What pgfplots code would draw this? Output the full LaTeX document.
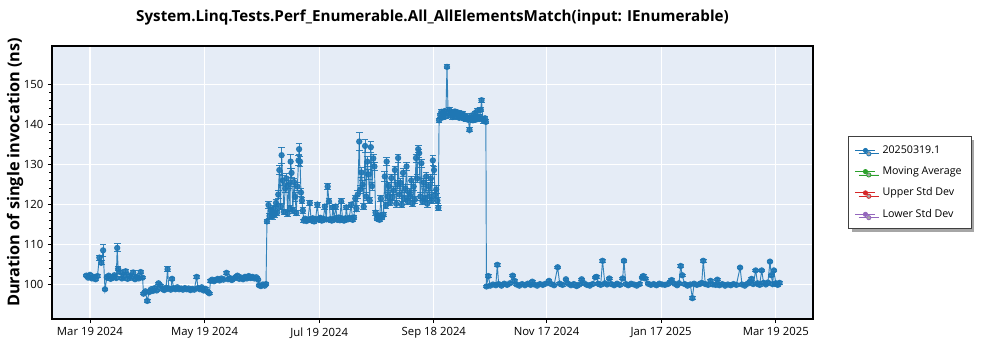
\documentclass[border=0pt]{standalone}
\usepackage{pgfplots}
\pgfplotsset{compat=1.18}
\usepackage{pgfplotstable}
\usepackage{fontspec}
\setmainfont{Open Sans}
\usetikzlibrary{shadows}
\definecolor{cblue}{HTML}{1F77B4}
\definecolor{cgreen}{HTML}{2CA02C}
\definecolor{cred}{HTML}{D62728}
\definecolor{cpurple}{HTML}{9467BD}
\definecolor{plotbg}{HTML}{E5ECF6}

\pgfplotstableread[row sep=\\]{
x y e\\
-2 102.3 0.3\\ -1 101.8 0.3\\ 0 102.5 0.3\\ 1 101.6 0.3\\ 2 102.0 0.3\\ 3 101.4 0.3\\ 4 102.2 0.3\\
5 106.8 0.6\\ 6 105.5 0.5\\ 7 108.6 1.4\\ 8 98.9 0.3\\ 9 101.8 0.3\\ 10 102.3 0.3\\ 11 101.5 0.3\\
12 101.9 0.3\\ 13 102.4 0.3\\ 14 101.7 0.3\\ 14.5 109.2 1.0\\ 15 104.0 0.5\\ 16 103.2 0.4\\ 17 101.6 0.3\\
18 102.2 0.3\\ 19 103.4 0.4\\ 20 101.5 0.3\\ 21 102.3 0.3\\ 22 101.8 0.3\\ 23 103.1 0.4\\ 24 101.4 0.3\\
25 102.0 0.3\\ 26 101.6 0.3\\ 27 103.2 0.4\\ 28 101.8 0.3\\
28.5 97.8 0.3\\ 29.5 98.4 0.3\\ 30.5 96.0 0.3\\ 31.5 98.2 0.3\\ 32.5 98.9 0.3\\ 33.5 98.5 0.3\\
34.5 99.2 0.3\\ 35.5 98.6 0.3\\ 36.5 100.4 0.3\\ 37.5 99.8 0.3\\ 38.5 99.0 0.3\\ 39.5 98.7 0.3\\
40.5 99.3 0.3\\ 41.3 103.9 0.6\\ 42 99.1 0.3\\ 43 98.8 0.3\\ 43.7 101.5 0.4\\ 44.5 99.2 0.3\\
45.5 98.9 0.3\\ 46.5 99.4 0.3\\ 47.5 98.9 0.3\\ 48.5 99.1 0.3\\ 49.5 98.8 0.3\\ 50.5 99.2 0.3\\
51.5 98.9 0.3\\ 52.5 99.1 0.3\\ 53.5 98.7 0.3\\ 54.5 99.0 0.3\\ 55.5 98.8 0.3\\ 56.8 102.0 0.4\\
57.5 99.2 0.3\\ 58.5 98.9 0.3\\ 59.5 99.4 0.3\\ 60.5 98.6 0.3\\ 61.5 99.0 0.3\\ 62.5 98.3 0.3\\ 63.5 97.9 0.3\\
64.2 101.0 0.3\\ 65 101.3 0.3\\ 66 100.9 0.3\\ 67 101.2 0.3\\ 68 101.5 0.3\\ 69 101.1 0.3\\ 70 101.6 0.3\\
71 101.3 0.3\\ 72.7 103.0 0.4\\ 73.5 101.4 0.3\\ 74.5 101.7 0.3\\ 75.5 101.2 0.3\\ 76.5 101.6 0.3\\
77.5 101.9 0.3\\ 78.5 102.3 0.3\\ 79.5 101.5 0.3\\ 80.5 101.8 0.3\\ 81.5 101.4 0.3\\ 82.5 102.0 0.3\\
83.5 101.6 0.3\\ 84.5 102.2 0.3\\ 85.5 101.7 0.3\\ 86.5 102.0 0.3\\ 87.5 101.6 0.3\\ 88.5 101.9 0.3\\
89.5 101.3 0.3\\ 90 99.9 0.3\\ 91 99.7 0.3\\ 92 100.1 0.3\\ 93 99.8 0.3\\ 93.7 100.2 0.3\\
94.2 115.8 0.5\\ 95 119.9 0.8\\ 95.6 117.2 0.6\\ 96.3 118.5 0.8\\ 97 117.0 0.6\\ 97.7 119.0 0.8\\
98.3 117.5 0.6\\ 99 120.4 0.8\\ 99.6 118.0 0.6\\ 100.2 122.5 1.0\\ 100.8 128.6 1.2\\ 101.4 119.5 0.8\\
102 132.3 2.0\\ 102.6 126.0 1.2\\ 103.2 118.2 0.7\\ 103.9 124.0 1.0\\ 104.6 126.5 1.2\\ 105.2 117.8 0.7\\
105.9 125.1 1.0\\ 106.5 119.0 0.8\\ 106.8 130.7 1.8\\ 107.3 127.9 1.2\\ 108 118.6 0.7\\ 108.6 125.6 1.0\\
109.2 121.9 1.0\\ 109.8 117.9 0.7\\ 110.4 124.5 1.0\\ 111 131.0 1.2\\ 111.3 133.8 1.4\\ 111.8 130.7 1.2\\
112.3 123.0 1.0\\ 112.8 121.0 0.8\\ 113.3 118.5 0.7\\
113.8 116.0 0.4\\ 114.5 116.5 0.4\\ 115.2 115.9 0.4\\ 116 116.3 0.4\\ 117 120.4 0.6\\ 117.7 116.1 0.4\\
118.5 116.6 0.4\\ 119.3 115.8 0.4\\ 120.1 116.4 0.4\\ 121 120.0 0.6\\ 121.8 116.2 0.4\\ 122.6 116.7 0.4\\
123.4 116.0 0.4\\ 124.2 116.5 0.4\\ 125 119.5 0.6\\ 125.8 116.3 0.4\\ 126.5 124.5 0.8\\ 127.2 120.8 0.6\\
128 116.4 0.4\\ 128.7 116.0 0.4\\ 129.3 119.3 0.6\\ 130 116.5 0.4\\ 130.8 119.5 0.6\\ 131.6 116.2 0.4\\
132.4 116.8 0.4\\ 133 116.1 0.4\\ 133.7 120.8 0.6\\ 134.4 116.5 0.4\\ 135.2 116.0 0.4\\ 136 116.6 0.4\\
136.4 119.3 0.6\\ 137.2 116.3 0.4\\ 138 116.7 0.4\\ 139 120.0 0.6\\ 139.8 116.2 0.4\\ 140.5 116.8 0.4\\
141.2 121.5 0.8\\ 141.8 119.0 0.7\\ 142.5 122.5 0.9\\ 143.3 135.7 2.2\\ 143.9 123.8 1.0\\ 144.5 128.0 1.2\\
145.1 125.0 1.0\\ 145.7 119.5 0.7\\ 146.4 134.6 1.5\\ 147 122.0 0.9\\ 147.6 130.7 1.2\\ 148.2 127.5 1.2\\
148.9 121.0 0.8\\ 149.5 134.3 1.3\\ 150.1 124.6 1.0\\ 150.8 131.5 1.0\\ 151.4 129.5 1.0\\ 152 118.0 0.6\\
152.7 116.5 0.5\\ 153.4 117.3 0.5\\ 154.1 116.2 0.5\\ 154.8 121.5 0.8\\ 155.5 116.8 0.5\\ 156.2 117.5 0.5\\
156.9 127.0 1.2\\ 157.5 119.8 0.8\\ 157.9 130.7 1.0\\ 158.5 122.0 0.9\\ 159.1 124.6 1.0\\ 159.7 120.5 0.8\\
160.4 126.6 1.0\\ 161 121.8 0.8\\ 161.7 123.5 1.0\\ 162.3 128.6 1.0\\ 163 120.2 0.8\\ 163.6 125.0 1.0\\
164 131.6 1.0\\ 164.7 122.5 0.9\\ 165.3 125.4 1.0\\ 166 120.0 0.8\\ 166.6 127.9 1.0\\ 167.2 121.5 0.8\\
167.9 124.0 1.0\\ 168.5 129.5 1.0\\ 169.1 120.8 0.8\\ 169.8 123.0 0.9\\ 170.4 122.0 0.9\\ 171 126.0 1.0\\
171.7 120.3 0.8\\ 172.3 124.5 1.0\\ 172.9 121.2 0.8\\ 173.5 131.6 1.0\\ 174.1 126.5 1.0\\ 174.7 133.8 0.8\\
175.2 132.8 1.0\\ 175.8 122.0 0.9\\ 176.4 130.3 1.0\\ 177 120.8 0.8\\ 177.7 125.5 1.0\\ 178.3 121.5 0.8\\
178.9 127.0 1.0\\ 179.5 120.2 0.8\\ 180.2 124.6 1.0\\ 180.8 122.0 0.9\\ 181.4 126.5 1.0\\ 182 121.0 0.8\\
182.5 131.0 1.2\\ 183.1 128.6 1.0\\ 183.7 122.5 0.9\\ 184.3 123.8 1.0\\ 184.9 121.0 0.8\\ 185.4 119.2 0.6\\
185.8 141.0 0.5\\ 186.4 142.3 0.5\\ 187 143.1 0.5\\ 187.6 141.7 0.5\\ 188.2 142.6 0.5\\ 188.8 143.3 0.5\\
189.4 142.0 0.5\\ 190 154.3 0.5\\ 190.6 142.8 0.5\\ 191.2 143.6 0.5\\ 191.8 142.2 0.5\\ 192.4 143.0 0.5\\
193 141.8 0.5\\ 193.6 142.7 0.5\\ 194.2 143.2 0.5\\ 194.8 141.9 0.5\\ 195.4 142.5 0.5\\ 196 142.9 0.5\\
196.6 141.6 0.5\\ 197.2 142.4 0.5\\ 197.8 141.9 0.5\\ 198.4 142.6 0.5\\ 199 141.4 0.5\\ 199.6 142.1 0.5\\
200.2 141.3 0.5\\ 200.8 141.8 0.5\\ 201.4 141.1 0.5\\ 202 138.6 0.5\\ 202.6 141.5 0.5\\ 203.2 142.2 0.5\\
203.8 141.0 0.5\\ 204.4 141.7 0.5\\ 205 142.8 0.5\\ 205.6 141.2 0.5\\ 206.2 143.4 0.5\\ 206.8 141.5 0.5\\
207.4 141.9 0.5\\ 208 143.6 0.5\\ 208.4 146.0 0.5\\ 209 141.3 0.5\\ 209.6 140.8 0.5\\ 210.2 141.5 0.5\\ 210.7 140.6 0.5\\
211 99.6 0.3\\ 212 102.2 0.3\\ 213 99.8 0.3\\ 214.5 100.1 0.3\\ 216 99.9 0.3\\ 216.8 105.0 0.3\\
217.5 100.2 0.3\\ 219 99.8 0.3\\ 220.5 100.3 0.3\\ 222 100.0 0.3\\ 223.5 100.4 0.3\\ 225 102.3 0.3\\
226 101.0 0.3\\ 227 100.1 0.3\\ 228.5 99.8 0.3\\ 230 100.2 0.3\\ 231.5 99.9 0.3\\ 233 100.3 0.3\\
234.5 100.0 0.3\\ 235.4 100.8 0.3\\ 236.5 100.1 0.3\\ 238 99.8 0.3\\ 239.5 100.2 0.3\\ 241 100.0 0.3\\
242.5 100.3 0.3\\ 244.3 101.0 0.3\\ 245.5 100.2 0.3\\ 247 99.9 0.3\\ 248.9 104.4 0.3\\ 250 100.3 0.3\\
251.5 100.0 0.3\\ 253.3 101.4 0.3\\ 254.5 100.3 0.3\\ 256 99.9 0.3\\ 257.5 100.2 0.3\\ 259 99.7 0.3\\
260.5 100.1 0.3\\ 261.7 101.4 0.3\\ 263 100.4 0.3\\ 264.5 100.0 0.3\\ 266 99.8 0.3\\ 267.5 100.2 0.3\\
269 101.9 0.3\\ 269.6 102.0 0.3\\ 270.5 100.3 0.3\\ 271.8 100.0 0.3\\ 272.8 106.0 0.3\\ 274 100.4 0.3\\
275.2 100.1 0.3\\ 276.4 101.6 0.3\\ 277.5 100.2 0.3\\ 279 99.9 0.3\\ 280.5 100.3 0.3\\ 282 100.0 0.3\\
283.5 101.6 0.3\\ 284.2 106.0 0.3\\ 285.2 100.2 0.3\\ 286.5 99.9 0.3\\ 288 100.3 0.3\\ 289.5 100.1 0.3\\
291 99.8 0.3\\ 292.5 100.2 0.3\\ 293.8 101.8 0.3\\ 294.5 102.2 0.3\\ 295.5 101.6 0.3\\ 297 100.3 0.3\\
298.5 100.0 0.3\\ 300 100.2 0.3\\ 301.5 99.9 0.3\\ 303 100.3 0.3\\ 304.5 100.1 0.3\\ 306 100.0 0.3\\
307.5 100.2 0.3\\ 309 100.8 0.3\\ 309.6 101.2 0.3\\ 311 100.3 0.3\\ 312.5 99.9 0.3\\ 313.5 100.4 0.3\\
314.4 104.7 0.3\\ 315.2 102.4 0.3\\ 316.5 100.2 0.3\\ 318 99.8 0.3\\ 319.5 100.1 0.3\\ 320.6 96.7 0.3\\
321.5 100.3 0.3\\ 323 100.0 0.3\\ 324.5 100.2 0.3\\ 325.6 100.5 0.3\\ 326.4 106.0 0.3\\ 327.5 100.2 0.3\\
329 100.0 0.3\\ 330.3 101.0 0.3\\ 331.5 100.1 0.3\\ 333 100.0 0.3\\ 333.9 101.3 0.3\\ 335 99.9 0.3\\
336.5 100.2 0.3\\ 338 99.8 0.3\\ 339.5 100.1 0.3\\ 341 99.9 0.3\\ 342.5 100.2 0.3\\ 344 100.0 0.3\\
346 104.3 0.3\\ 347 100.1 0.3\\ 348.5 99.8 0.3\\ 350 100.3 0.3\\ 351.2 100.8 0.3\\ 352.1 101.5 0.3\\
353 100.2 0.3\\ 354.3 103.6 0.3\\ 355.3 100.4 0.3\\ 356.4 100.0 0.3\\ 357.5 103.6 0.3\\ 358.5 100.5 0.3\\
359.7 100.1 0.3\\ 360.8 100.6 0.3\\ 361.9 105.8 0.3\\ 362.6 102.4 0.3\\ 363.3 100.2 0.3\\ 364 103.6 0.3\\
365 100.4 0.3\\ 366 100.0 0.3\\ 367 100.5 0.3\\
}\perfdata

\begin{document}
\begin{tikzpicture}
\begin{axis}[
  name=ax,
  scale only axis,
  width=570.75pt, height=204.75pt,
  xmin=-20.2, xmax=384.8,
  ymin=91.5, ymax=159.5,
  axis background/.style={fill=plotbg},
  axis line style={black, line width=0.9pt},
  xtick={0,61,122,183,243,304,365},
  xticklabels={Mar 19 2024, May 19 2024, Jul 19 2024, Sep 18 2024, Nov 17 2024, Jan 17 2025, Mar 19 2025},
  ytick={100,110,120,130,140,150},
  minor y tick num=4,
  tick align=outside,
  xtick pos=bottom, ytick pos=left,
  major tick length=3pt, minor tick length=2pt,
  tick style={black, line width=0.6pt},
  grid=major,
  major grid style={white, line width=0.9pt},
  ticklabel style={font=\fontsize{8.5}{10}\selectfont},
  /pgf/number format/assume math mode=true,
  legend style={at={(axis description cs:1,0.5)}, anchor=west, xshift=26.25pt,
    draw=black!75, line width=0.6pt, fill=white,
    drop shadow={shadow xshift=2.5pt, shadow yshift=-2.5pt, fill=black!35, opacity=1},
    font=\fontsize{8}{9}\selectfont, row sep=4.5pt, inner xsep=5pt, inner ysep=5pt,
    /tikz/every odd column/.append style={column sep=3pt}},
  legend cell align=left,
  legend image code/.code={
    \draw[#1, line width=0.6pt] (0pt,0pt) -- (15pt,0pt);
    \fill[#1] (7.5pt,0pt) circle (1.6pt);
  },
]
\addplot[forget plot, color=cblue, line width=0.7pt, opacity=0.9, mark=*, mark size=2.0pt,
  mark options={fill=cblue, draw=cblue},
  error bars/.cd, y dir=both, y explicit,
  error bar style={color=cblue, line width=0.7pt},
  error mark options={rotate=90, mark size=2.5pt, line width=0.7pt, color=cblue}]
  table[x=x, y=y, y error=e] {\perfdata};
\addlegendimage{color=cblue}
\addlegendentry{20250319.1}
\addlegendimage{color=cgreen}
\addlegendentry{Moving Average}
\addlegendimage{color=cred}
\addlegendentry{Upper Std Dev}
\addlegendimage{color=cpurple}
\addlegendentry{Lower Std Dev}
\end{axis}
\node[font=\bfseries\fontsize{11.4}{13}\selectfont] at ([yshift=21pt]ax.north) {System.Linq.Tests.Perf\_Enumerable.All\_AllElementsMatch(input: IEnumerable)};
\node[rotate=90, font=\bfseries\fontsize{12.2}{14}\selectfont] at ([xshift=-27.75pt, yshift=7.5pt]ax.west) {Duration of single invocation (ns)};
\pgfresetboundingbox
\path[use as bounding box] ([xshift=-39pt, yshift=-23.25pt]ax.south west) rectangle ++(750pt,262.5pt);
\end{tikzpicture}
\end{document}
